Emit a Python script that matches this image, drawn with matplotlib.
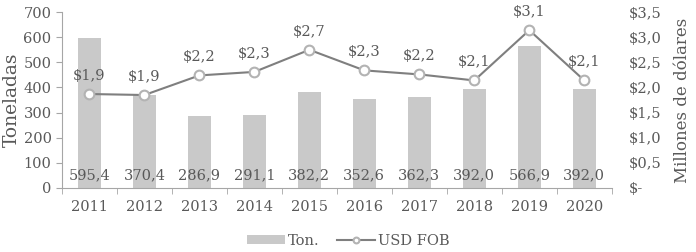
import matplotlib
matplotlib.use("Agg")
import matplotlib.pyplot as plt
import numpy as np

years = ["2011", "2012", "2013", "2014", "2015", "2016", "2017", "2018", "2019", "2020"]
tons = [595.4, 370.4, 286.9, 291.1, 382.2, 352.6, 362.3, 392.0, 566.9, 392.0]
usd = [1.87, 1.85, 2.24, 2.31, 2.75, 2.34, 2.26, 2.14, 3.14, 2.14]
usd_labels = ["$1,9", "$1,9", "$2,2", "$2,3", "$2,7", "$2,3", "$2,2", "$2,1", "$3,1", "$2,1"]
left_ticks = [0, 100, 200, 300, 400, 500, 600, 700]
right_ticks = [0, 0.5, 1.0, 1.5, 2.0, 2.5, 3.0, 3.5]
right_labels = ["$-", "$0,5", "$1,0", "$1,5", "$2,0", "$2,5", "$3,0", "$3,5"]

plt.rcParams['font.family'] = ['DejaVu Serif']
txt = "#595959"
fs = 10.5

fig = plt.figure(figsize=(6.96, 2.52), dpi=100)
ax = fig.add_axes([0.089, 0.254, 0.79, 0.698])
x = np.arange(len(years))
ax.bar(x, tons, width=0.42, color="#c9c9c9", label="Ton.", zorder=1)
for xi, v in zip(x, tons):
    ax.text(xi, 50, f"{v:.1f}".replace(".", ","), ha="center", va="center",
            fontsize=fs, color=txt, zorder=3)
ax.set_ylim(0, 700)
ax.set_xlim(-0.5, len(years) - 0.5)
ax.set_yticks(left_ticks)
ax.set_xticks(x)
ax.set_xticklabels(years)
ax.set_xticks(np.arange(-0.5, len(years)), minor=True)
ax.tick_params(axis="x", which="major", length=0, colors=txt, labelsize=fs, pad=9)
ax.tick_params(axis="x", which="minor", length=4, color="#a6a6a6")
ax.tick_params(axis="y", length=4, color="#a6a6a6", labelcolor=txt, labelsize=fs)
for s in ["top", "right"]:
    ax.spines[s].set_visible(False)
ax.spines["left"].set_color("#a6a6a6")
ax.spines["bottom"].set_color("#a6a6a6")
ax.set_ylabel("Toneladas", color=txt, fontsize=13.5, labelpad=2)

ax2 = ax.twinx()
ax2.plot(x, usd, color="#7f7f7f", lw=1.5, marker="o", ms=7, mfc="white",
         mec="#b3b3b3", mew=1.5, label="USD FOB", zorder=4)
for xi, v, lab in zip(x, usd, usd_labels):
    ax2.text(xi, v + 0.22, lab, ha="center", va="bottom", fontsize=fs, color=txt)
ax2.set_ylim(0, 3.5)
ax2.set_yticks(right_ticks)
ax2.set_yticklabels(right_labels)
ax2.tick_params(axis="y", length=0, labelcolor=txt, labelsize=fs, pad=12)
for s in ["top", "right", "left", "bottom"]:
    ax2.spines[s].set_visible(False)
ax2.set_ylabel("Millones de dólares", color=txt, fontsize=12, labelpad=9)

h1, l1 = ax.get_legend_handles_labels()
h2, l2 = ax2.get_legend_handles_labels()
leg = fig.legend(h1 + h2, l1 + l2, loc="lower center", bbox_to_anchor=(0.5, -0.035), ncol=2,
                 frameon=False, fontsize=fs, labelcolor=txt, handlelength=2.6,
                 handleheight=0.5, handletextpad=0.2, columnspacing=1.2, markerscale=0.6)

fig.savefig("out.png", dpi=100)
